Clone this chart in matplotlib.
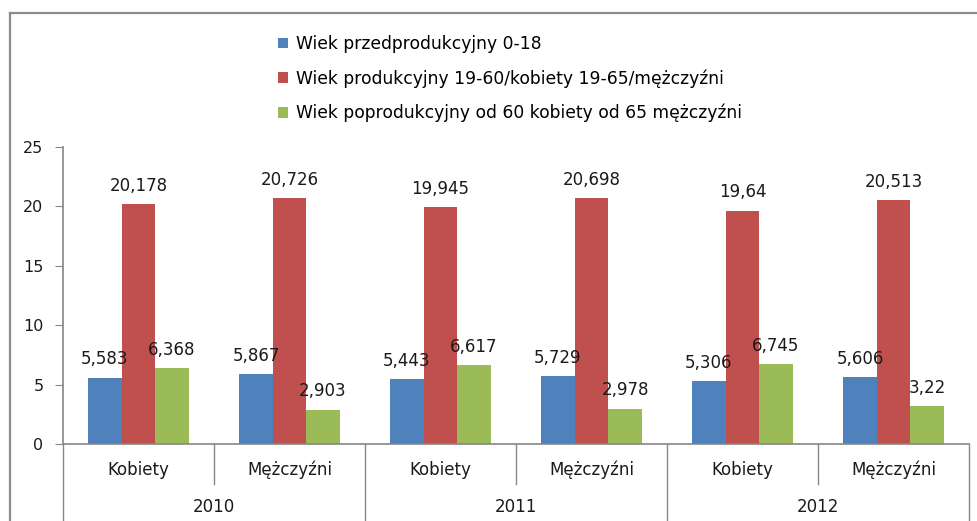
import matplotlib
matplotlib.use("Agg")
import matplotlib.pyplot as plt
from matplotlib.patches import Patch
from matplotlib.lines import Line2D
import numpy as np

years = ["2010", "2011", "2012"]
genders = ["Kobiety", "Mężczyźni"]
series_names = [
    "Wiek przedprodukcyjny 0-18",
    "Wiek produkcyjny 19-60/kobiety 19-65/mężczyźni",
    "Wiek poprodukcyjny od 60 kobiety od 65 mężczyźni",
]
pre = [5.583, 5.867, 5.443, 5.729, 5.306, 5.606]
prod = [20.178, 20.726, 19.945, 20.698, 19.64, 20.513]
post = [6.368, 2.903, 6.617, 2.978, 6.745, 3.22]
colors = ["#4F81BD", "#C0504D", "#9BBB59"]

W, H = 977, 521
fig = plt.figure(figsize=(W / 100, H / 100), dpi=100)
plt.rcParams['font.family'] = ['DejaVu Sans']

def fx(px):
    return px / W

def fy(py):
    return 1 - py / H

ax_left, ax_right, ax_top, ax_bot = 63, 969, 147, 444
ax = fig.add_axes([fx(ax_left), fy(ax_bot), fx(ax_right - ax_left), (ax_bot - ax_top) / H])

n = len(pre)
x = np.arange(n) + 0.5
bw = 0.222
axis_col = "#868686"
for k, (vals, c) in enumerate(zip([pre, prod, post], colors)):
    xs = x + (k - 1) * bw
    ax.bar(xs, vals, width=bw, color=c, label=series_names[k], zorder=2)
    for xi, v in zip(xs, vals):
        lab = ("%g" % v).replace(".", ",")
        ax.annotate(lab, (xi, v), xytext=(0, 9.5), textcoords="offset points",
                    ha="center", va="baseline", fontsize=12, color="#1a1a1a", zorder=5)

ax.set_xlim(0, n)
ax.set_ylim(0, 25)
ax.set_yticks([0, 5, 10, 15, 20, 25])
ax.tick_params(axis="y", length=6, color=axis_col, labelsize=11.5, pad=8, labelcolor="#1a1a1a")
ax.set_xticks([])
for s in ["top", "right"]:
    ax.spines[s].set_visible(False)
for s in ["left", "bottom"]:
    ax.spines[s].set_color(axis_col)
    ax.spines[s].set_linewidth(1.2)

# category labels
for i in range(n):
    fig.text(fx(ax_left + (i + 0.5) * (ax_right - ax_left) / n), fy(470), genders[i % 2],
             ha="center", va="center", fontsize=12, color="#1a1a1a")
for j, yr in enumerate(years):
    fig.text(fx(ax_left + (2 * j + 1) * (ax_right - ax_left) / n), fy(507), yr,
             ha="center", va="center", fontsize=12, color="#1a1a1a")

# separators
for i in range(n + 1):
    px = ax_left + i * (ax_right - ax_left) / n
    end = 521 if i % 2 == 0 else 484
    fig.add_artist(Line2D([fx(px), fx(px)], [fy(ax_bot), fy(end)], color=axis_col, lw=1.0))

# outer chart border
bc = "#8c8c8c"
fig.add_artist(Line2D([fx(9.5), 1.0], [fy(13), fy(13)], color=bc, lw=1.6))
fig.add_artist(Line2D([fx(9.5), fx(9.5)], [fy(13), 0.0], color=bc, lw=1.6))

handles = [Patch(facecolor=c, edgecolor="none") for c in colors]
fig.legend(handles, series_names, loc="upper left", bbox_to_anchor=(fx(278), fy(35)),
           frameon=False, fontsize=12.3, handlelength=0.6, handleheight=0.6,
           handletextpad=0.45, labelspacing=0.94, borderaxespad=0, borderpad=0)

fig.savefig("out.png", dpi=100)
